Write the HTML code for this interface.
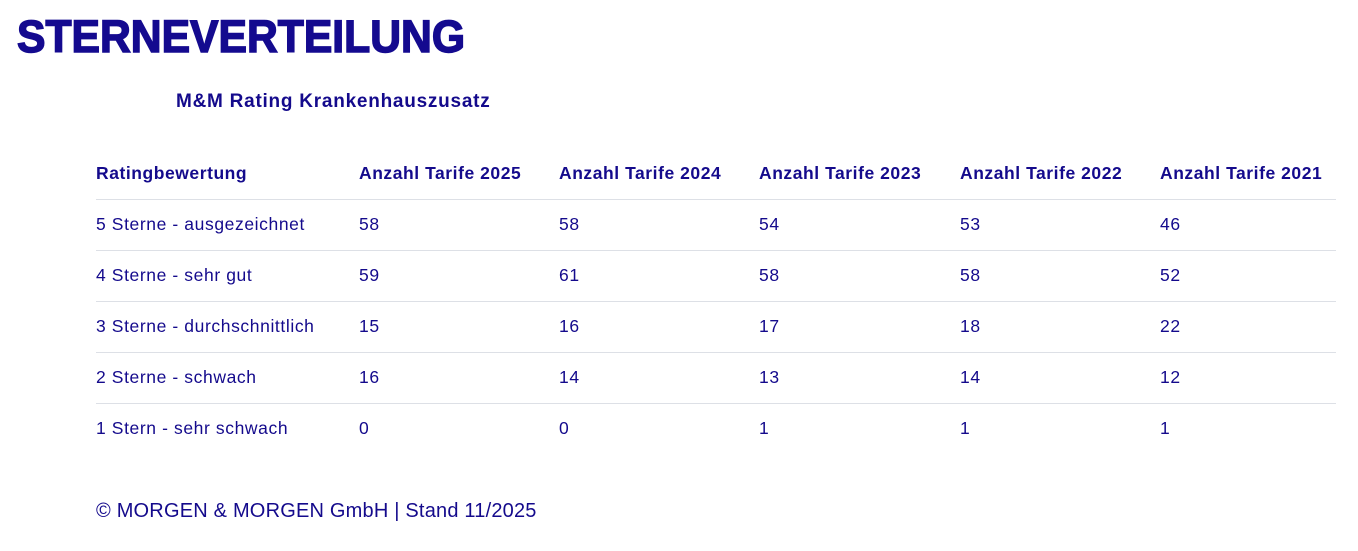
<!DOCTYPE html>
<html><head><meta charset="utf-8"><style>
body{margin:0;width:1358px;height:551px;background:#fff;font-family:"Liberation Sans",sans-serif;color:#140a8c;position:relative;overflow:hidden}
.t{position:absolute;white-space:nowrap}
.h{font-weight:bold;font-size:17.5px;letter-spacing:0.55px}
.c{font-size:17.5px;letter-spacing:0.6px}
.line{position:absolute;left:96px;width:1240px;height:1px;background:#dde0e6}
</style></head><body>
<svg class="t" style="left:0;top:0" width="600" height="70"><text x="17" y="52" font-family="Liberation Sans" font-weight="900" font-size="45" fill="#140a8f" textLength="448" lengthAdjust="spacingAndGlyphs" stroke="#140a8f" stroke-width="1.5">STERNEVERTEILUNG</text></svg>
<div class="t" style="left:176px;top:91px;font-weight:bold;font-size:19px;letter-spacing:0.75px">M&amp;M Rating Krankenhauszusatz</div>
<div class="t h" style="left:96px;top:163px">Ratingbewertung</div>
<div class="t h" style="left:359px;top:163px">Anzahl Tarife 2025</div>
<div class="t h" style="left:559px;top:163px">Anzahl Tarife 2024</div>
<div class="t h" style="left:759px;top:163px">Anzahl Tarife 2023</div>
<div class="t h" style="left:960px;top:163px">Anzahl Tarife 2022</div>
<div class="t h" style="left:1160px;top:163px">Anzahl Tarife 2021</div>
<div class="line" style="top:199px"></div>
<div class="line" style="top:250px"></div>
<div class="line" style="top:301px"></div>
<div class="line" style="top:352px"></div>
<div class="line" style="top:403px"></div>

<div class="t c" style="left:96px;top:214px">5 Sterne - ausgezeichnet</div>
<div class="t c" style="left:359px;top:214px">58</div><div class="t c" style="left:559px;top:214px">58</div><div class="t c" style="left:759px;top:214px">54</div><div class="t c" style="left:960px;top:214px">53</div><div class="t c" style="left:1160px;top:214px">46</div>

<div class="t c" style="left:96px;top:265px">4 Sterne - sehr gut</div>
<div class="t c" style="left:359px;top:265px">59</div><div class="t c" style="left:559px;top:265px">61</div><div class="t c" style="left:759px;top:265px">58</div><div class="t c" style="left:960px;top:265px">58</div><div class="t c" style="left:1160px;top:265px">52</div>

<div class="t c" style="left:96px;top:316px">3 Sterne - durchschnittlich</div>
<div class="t c" style="left:359px;top:316px">15</div><div class="t c" style="left:559px;top:316px">16</div><div class="t c" style="left:759px;top:316px">17</div><div class="t c" style="left:960px;top:316px">18</div><div class="t c" style="left:1160px;top:316px">22</div>

<div class="t c" style="left:96px;top:367px">2 Sterne - schwach</div>
<div class="t c" style="left:359px;top:367px">16</div><div class="t c" style="left:559px;top:367px">14</div><div class="t c" style="left:759px;top:367px">13</div><div class="t c" style="left:960px;top:367px">14</div><div class="t c" style="left:1160px;top:367px">12</div>

<div class="t c" style="left:96px;top:418px">1 Stern - sehr schwach</div>
<div class="t c" style="left:359px;top:418px">0</div><div class="t c" style="left:559px;top:418px">0</div><div class="t c" style="left:759px;top:418px">1</div><div class="t c" style="left:960px;top:418px">1</div><div class="t c" style="left:1160px;top:418px">1</div>

<div class="t" style="left:96px;top:500px;font-size:20px;letter-spacing:0.2px">© MORGEN &amp; MORGEN GmbH | Stand 11/2025</div>
</body></html>
